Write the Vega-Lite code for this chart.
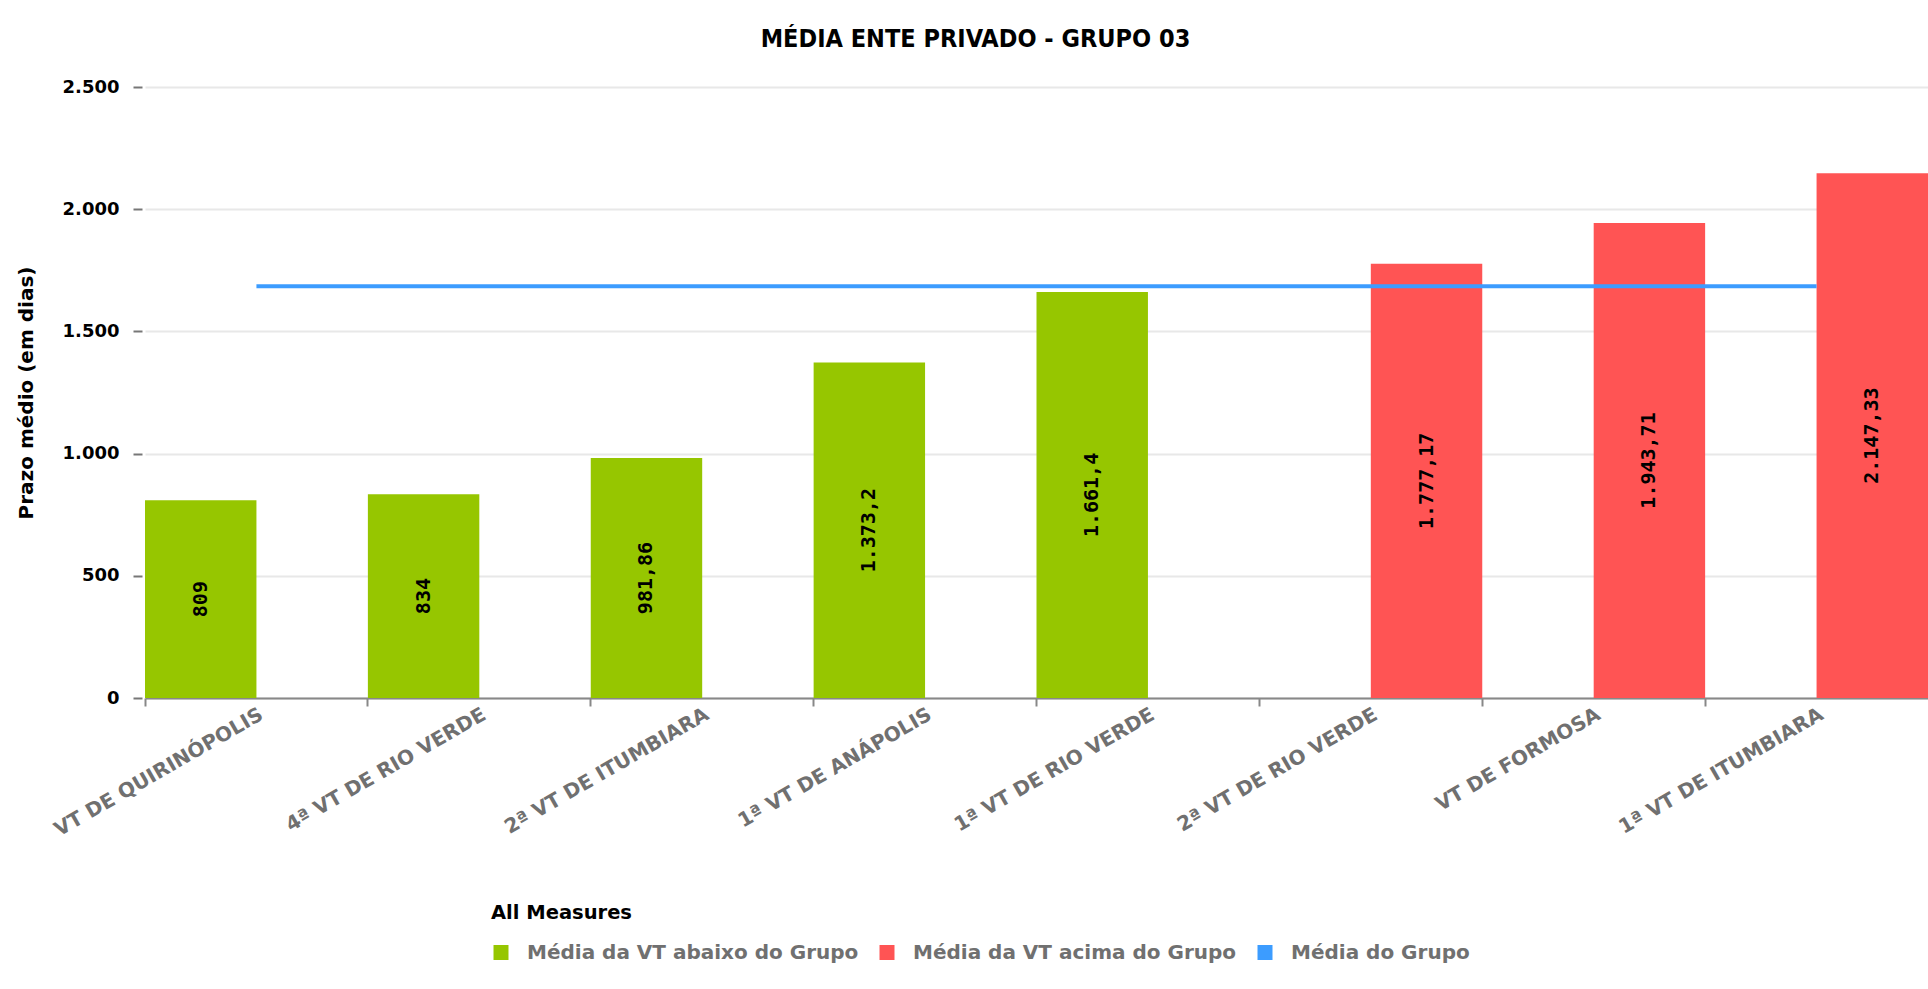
{
  "$schema": "https://vega.github.io/schema/vega-lite/v6.json",
  "width": 1783,
  "height": 611,
  "autosize": {"type": "none"},
  "padding": {"left": 145, "top": 87, "right": 0, "bottom": 291},
  "background": "white",
  "config": {
    "locale": {"number": {"decimal": ",", "thousands": ".", "grouping": [3], "currency": ["R$", ""]}},
    "view": {"stroke": null},
    "font": "DejaVu Sans"
  },
  "title": {
    "text": "MÉDIA ENTE PRIVADO - GRUPO 03",
    "font": "DejaVu Sans Condensed, DejaVu Sans",
    "fontSize": 25,
    "fontWeight": "bold",
    "color": "black",
    "anchor": "middle",
    "dx": -61,
    "offset": 26
  },
  "datasets": {
    "vt": [
      {"vara": "VT DE QUIRINÓPOLIS", "prazo": 809, "serie": "Média da VT abaixo do Grupo"},
      {"vara": "4ª VT DE RIO VERDE", "prazo": 834, "serie": "Média da VT abaixo do Grupo"},
      {"vara": "2ª VT DE ITUMBIARA", "prazo": 981.86, "serie": "Média da VT abaixo do Grupo"},
      {"vara": "1ª VT DE ANÁPOLIS", "prazo": 1373.2, "serie": "Média da VT abaixo do Grupo"},
      {"vara": "1ª VT DE RIO VERDE", "prazo": 1661.4, "serie": "Média da VT abaixo do Grupo"},
      {"vara": "2ª VT DE RIO VERDE", "prazo": 1777.17, "serie": "Média da VT acima do Grupo"},
      {"vara": "VT DE FORMOSA", "prazo": 1943.71, "serie": "Média da VT acima do Grupo"},
      {"vara": "1ª VT DE ITUMBIARA", "prazo": 2147.33, "serie": "Média da VT acima do Grupo"}
    ],
    "media": [
      {"vara": "VT DE QUIRINÓPOLIS", "prazo": 1685, "serie": "Média do Grupo"},
      {"vara": "4ª VT DE RIO VERDE", "prazo": 1685, "serie": "Média do Grupo"},
      {"vara": "2ª VT DE ITUMBIARA", "prazo": 1685, "serie": "Média do Grupo"},
      {"vara": "1ª VT DE ANÁPOLIS", "prazo": 1685, "serie": "Média do Grupo"},
      {"vara": "1ª VT DE RIO VERDE", "prazo": 1685, "serie": "Média do Grupo"},
      {"vara": "2ª VT DE RIO VERDE", "prazo": 1685, "serie": "Média do Grupo"},
      {"vara": "VT DE FORMOSA", "prazo": 1685, "serie": "Média do Grupo"},
      {"vara": "1ª VT DE ITUMBIARA", "prazo": 1685, "serie": "Média do Grupo"}
    ]
  },
  "layer": [
    {
      "data": {"name": "vt"},
      "mark": {"type": "bar"},
      "encoding": {
        "x": {
          "field": "vara",
          "type": "nominal",
          "scale": {
            "domain": ["VT DE QUIRINÓPOLIS", "4ª VT DE RIO VERDE", "2ª VT DE ITUMBIARA", "1ª VT DE ANÁPOLIS", "1ª VT DE RIO VERDE", "2ª VT DE RIO VERDE", "VT DE FORMOSA", "1ª VT DE ITUMBIARA"],
            "paddingInner": 0,
            "paddingOuter": 0
          },
          "axis": {
            "title": null,
            "labelAngle": -30,
            "labelFont": "DejaVu Sans",
            "labelFontWeight": "bold",
            "labelFontSize": 20,
            "labelColor": "#707070",
            "labelPadding": -2,
            "labelLimit": 0,
            "ticks": true,
            "tickSize": 8,
            "tickWidth": 2,
            "tickColor": "#888888",
            "domainColor": "#888888",
            "domainWidth": 2,
            "bandPosition": 0
          }
        },
        "xOffset": {
          "field": "serie",
          "type": "nominal",
          "scale": {"domain": ["Média da VT abaixo do Grupo", "Média da VT acima do Grupo"], "paddingInner": 0, "paddingOuter": 0}
        },
        "y": {
          "field": "prazo",
          "type": "quantitative",
          "scale": {"domain": [0, 2500], "nice": false},
          "axis": {
            "title": "Prazo médio (em dias)",
            "titleFont": "DejaVu Sans",
            "titleFontWeight": "bold",
            "titleFontSize": 20,
            "titleColor": "black",
            "titlePadding": 26,
            "values": [0, 500, 1000, 1500, 2000, 2500],
            "format": ",d",
            "labelFont": "DejaVu Sans",
            "labelFontWeight": "bold",
            "labelFontSize": 18,
            "labelColor": "black",
            "labelPadding": 14,
            "tickSize": 9,
            "tickWidth": 2,
            "tickColor": "#777777",
            "domain": false,
            "offset": 3,
            "grid": true,
            "gridColor": "#e8e8e8",
            "gridWidth": 2
          }
        },
        "color": {
          "field": "serie",
          "type": "nominal",
          "scale": {
            "domain": ["Média da VT abaixo do Grupo", "Média da VT acima do Grupo", "Média do Grupo"],
            "range": ["#96c600", "#ff5454", "#3c9cff"]
          },
          "legend": {
            "title": "All Measures",
            "orient": "none",
            "legendX": 346,
            "legendY": 817,
            "direction": "horizontal",
            "titleFont": "DejaVu Sans",
            "titleFontSize": 19.5,
            "titleFontWeight": "bold",
            "titleColor": "black",
            "titlePadding": 19,
            "labelFont": "DejaVu Sans",
            "labelFontSize": 20,
            "labelFontWeight": "bold",
            "labelColor": "#707070",
            "labelLimit": 0,
            "symbolType": "square",
            "symbolSize": 225,
            "symbolStrokeWidth": 0,
            "labelOffset": 16,
            "columnPadding": 18
          }
        }
      }
    },
    {
      "data": {"name": "media"},
      "mark": {"type": "line", "strokeWidth": 4},
      "encoding": {
        "x": {"field": "vara", "type": "nominal"},
        "y": {"field": "prazo", "type": "quantitative", "scale": {"domain": [0, 2500], "nice": false}, "axis": null},
        "color": {"field": "serie", "type": "nominal"}
      }
    },
    {
      "data": {"name": "vt"},
      "mark": {"type": "text", "angle": 270, "font": "DejaVu Sans Mono", "fontWeight": "bold", "fontSize": 20, "color": "black", "align": "center", "baseline": "middle"},
      "encoding": {
        "x": {"field": "vara", "type": "nominal"},
        "xOffset": {"field": "serie", "type": "nominal"},
        "y": {"field": "prazo", "type": "quantitative", "scale": {"domain": [0, 5000], "nice": false}, "axis": null},
        "text": {"field": "prazo", "type": "quantitative", "format": ",.2~f"}
      }
    }
  ],
  "resolve": {"scale": {"y": "independent"}}
}
